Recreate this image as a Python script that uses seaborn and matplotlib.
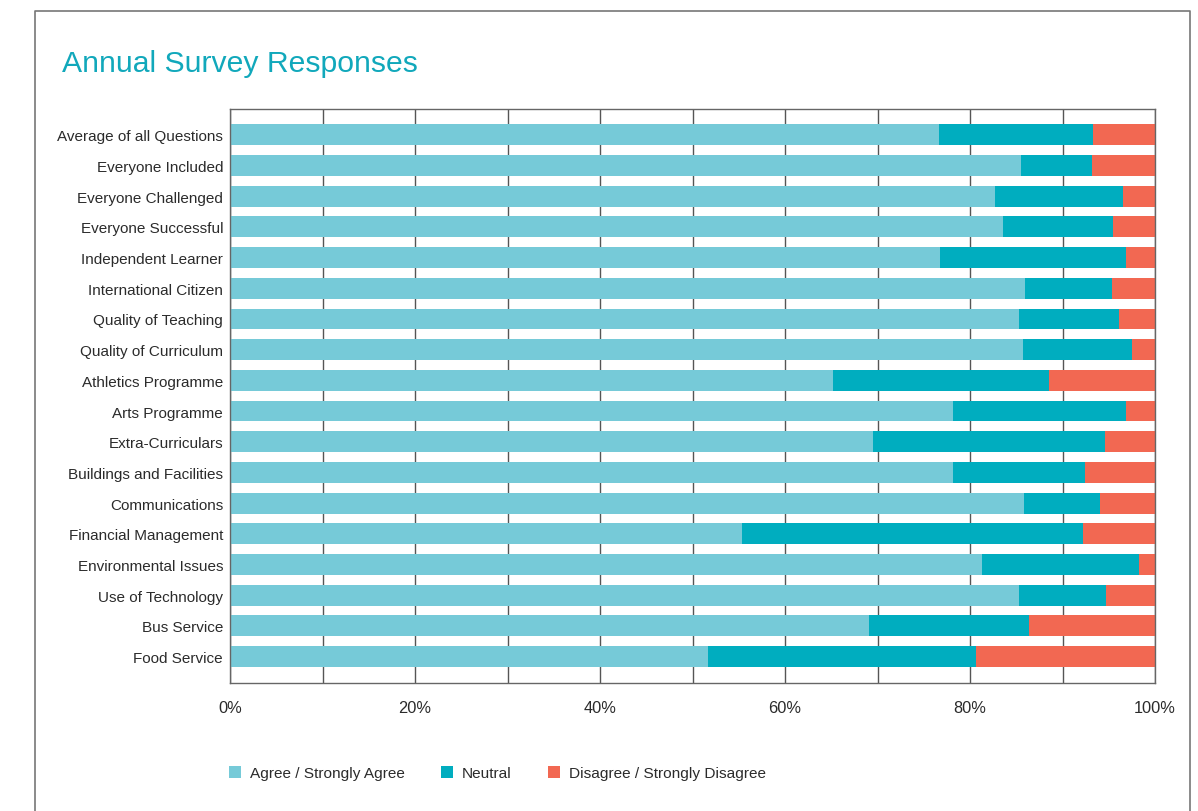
import matplotlib
matplotlib.use("Agg")
import matplotlib.pyplot as plt
from matplotlib.lines import Line2D
from matplotlib.patches import Patch
from matplotlib.ticker import MultipleLocator, FuncFormatter
import numpy as np
import pandas as pd
import seaborn as sns

# Survey questions, top to bottom
questions = [
    "Average of all Questions", "Everyone Included", "Everyone Challenged",
    "Everyone Successful", "Independent Learner", "International Citizen",
    "Quality of Teaching", "Quality of Curriculum", "Athletics Programme",
    "Arts Programme", "Extra-Curriculars", "Buildings and Facilities",
    "Communications", "Financial Management", "Environmental Issues",
    "Use of Technology", "Bus Service", "Food Service",
]

# Share of responses (%) per question
agree = [76.6, 85.5, 82.7, 83.6, 76.8, 85.9, 85.3, 85.7, 65.2,
         78.2, 69.5, 78.2, 85.8, 55.3, 81.3, 85.3, 69.1, 51.7]
neutral = [16.7, 7.7, 13.8, 11.9, 20.1, 9.5, 10.8, 11.8, 23.3,
           18.7, 25.1, 14.2, 8.3, 36.9, 17.0, 9.4, 17.3, 28.9]
disagree = [6.7, 6.8, 3.5, 4.5, 3.1, 4.6, 3.9, 2.5, 11.5,
            3.1, 5.4, 7.6, 5.9, 7.8, 1.7, 5.3, 13.6, 19.4]

series_names = ["Agree / Strongly Agree", "Neutral", "Disagree / Strongly Disagree"]
series_colors = ["#76cad8", "#00adbf", "#f26852"]

df = pd.DataFrame({"question": questions, "agree": agree,
                   "neutral": neutral, "disagree": disagree})
# Cumulative extents for stacking
df["c_agree"] = df["agree"]
df["c_neutral"] = df["agree"] + df["neutral"]
df["c_disagree"] = df["agree"] + df["neutral"] + df["disagree"]

sns.set_style("white")
plt.rcParams["font.family"] = ["Liberation Sans", "DejaVu Sans"]
text_color = "#2b2b2b"

W, H = 1198, 812
fig = plt.figure(figsize=(W / 100, H / 100), dpi=100)
fig.patch.set_facecolor("white")

ax = fig.add_axes([230 / W, 1 - 684 / H, 925 / W, 574 / H])

# Stacked bars: draw widest cumulative first, narrower on top
for col, color in zip(["c_disagree", "c_neutral", "c_agree"], series_colors[::-1]):
    sns.barplot(data=df, x=col, y="question", orient="h", color=color,
                saturation=1, width=0.68, linewidth=0, ax=ax, zorder=2)

ax.set_xlim(0, 100)
ax.set_ylim(17.86, -0.84)
ax.set_xlabel("")
ax.set_ylabel("")

ax.xaxis.set_major_locator(MultipleLocator(20))
ax.xaxis.set_minor_locator(MultipleLocator(10))
ax.xaxis.set_major_formatter(FuncFormatter(lambda v, p: f"{v:.0f}%"))
ax.grid(axis="x", which="both", color="#555555", linewidth=1.0, zorder=0)
ax.set_axisbelow(True)
ax.tick_params(axis="x", which="both", length=0, pad=12, labelsize=11.8,
               labelcolor=text_color)
ax.tick_params(axis="y", length=0, pad=5, labelsize=11, labelcolor=text_color)

for s in ax.spines.values():
    s.set_visible(True)
    s.set_color("#666666")
    s.set_linewidth(1.0)

# Title
fig.text(62 / W, 1 - 72 / H, "Annual Survey Responses", color="#11a8bb",
         fontsize=21.7, ha="left", va="baseline")

# Legend
handles = [Patch(facecolor=c, edgecolor="none", label=n)
           for n, c in zip(series_names, series_colors)]
fig.legend(handles=handles, loc="center left",
           bbox_to_anchor=(229 / W, 1 - 774 / H), ncol=3, frameon=False,
           fontsize=11.1, handlelength=0.8, handleheight=0.8,
           handletextpad=0.55, columnspacing=2.35, borderpad=0,
           borderaxespad=0, labelcolor=text_color)

# Outer frame (open at the bottom)
fx0, fx1, fy = 35 / W, 1190 / W, 1 - 12 / H
fig.add_artist(Line2D([fx0, fx0, fx1, fx1], [0, fy, fy, 0],
                      transform=fig.transFigure, color="#777777", linewidth=1.2))

fig.savefig("out.png", dpi=100, facecolor="white")
